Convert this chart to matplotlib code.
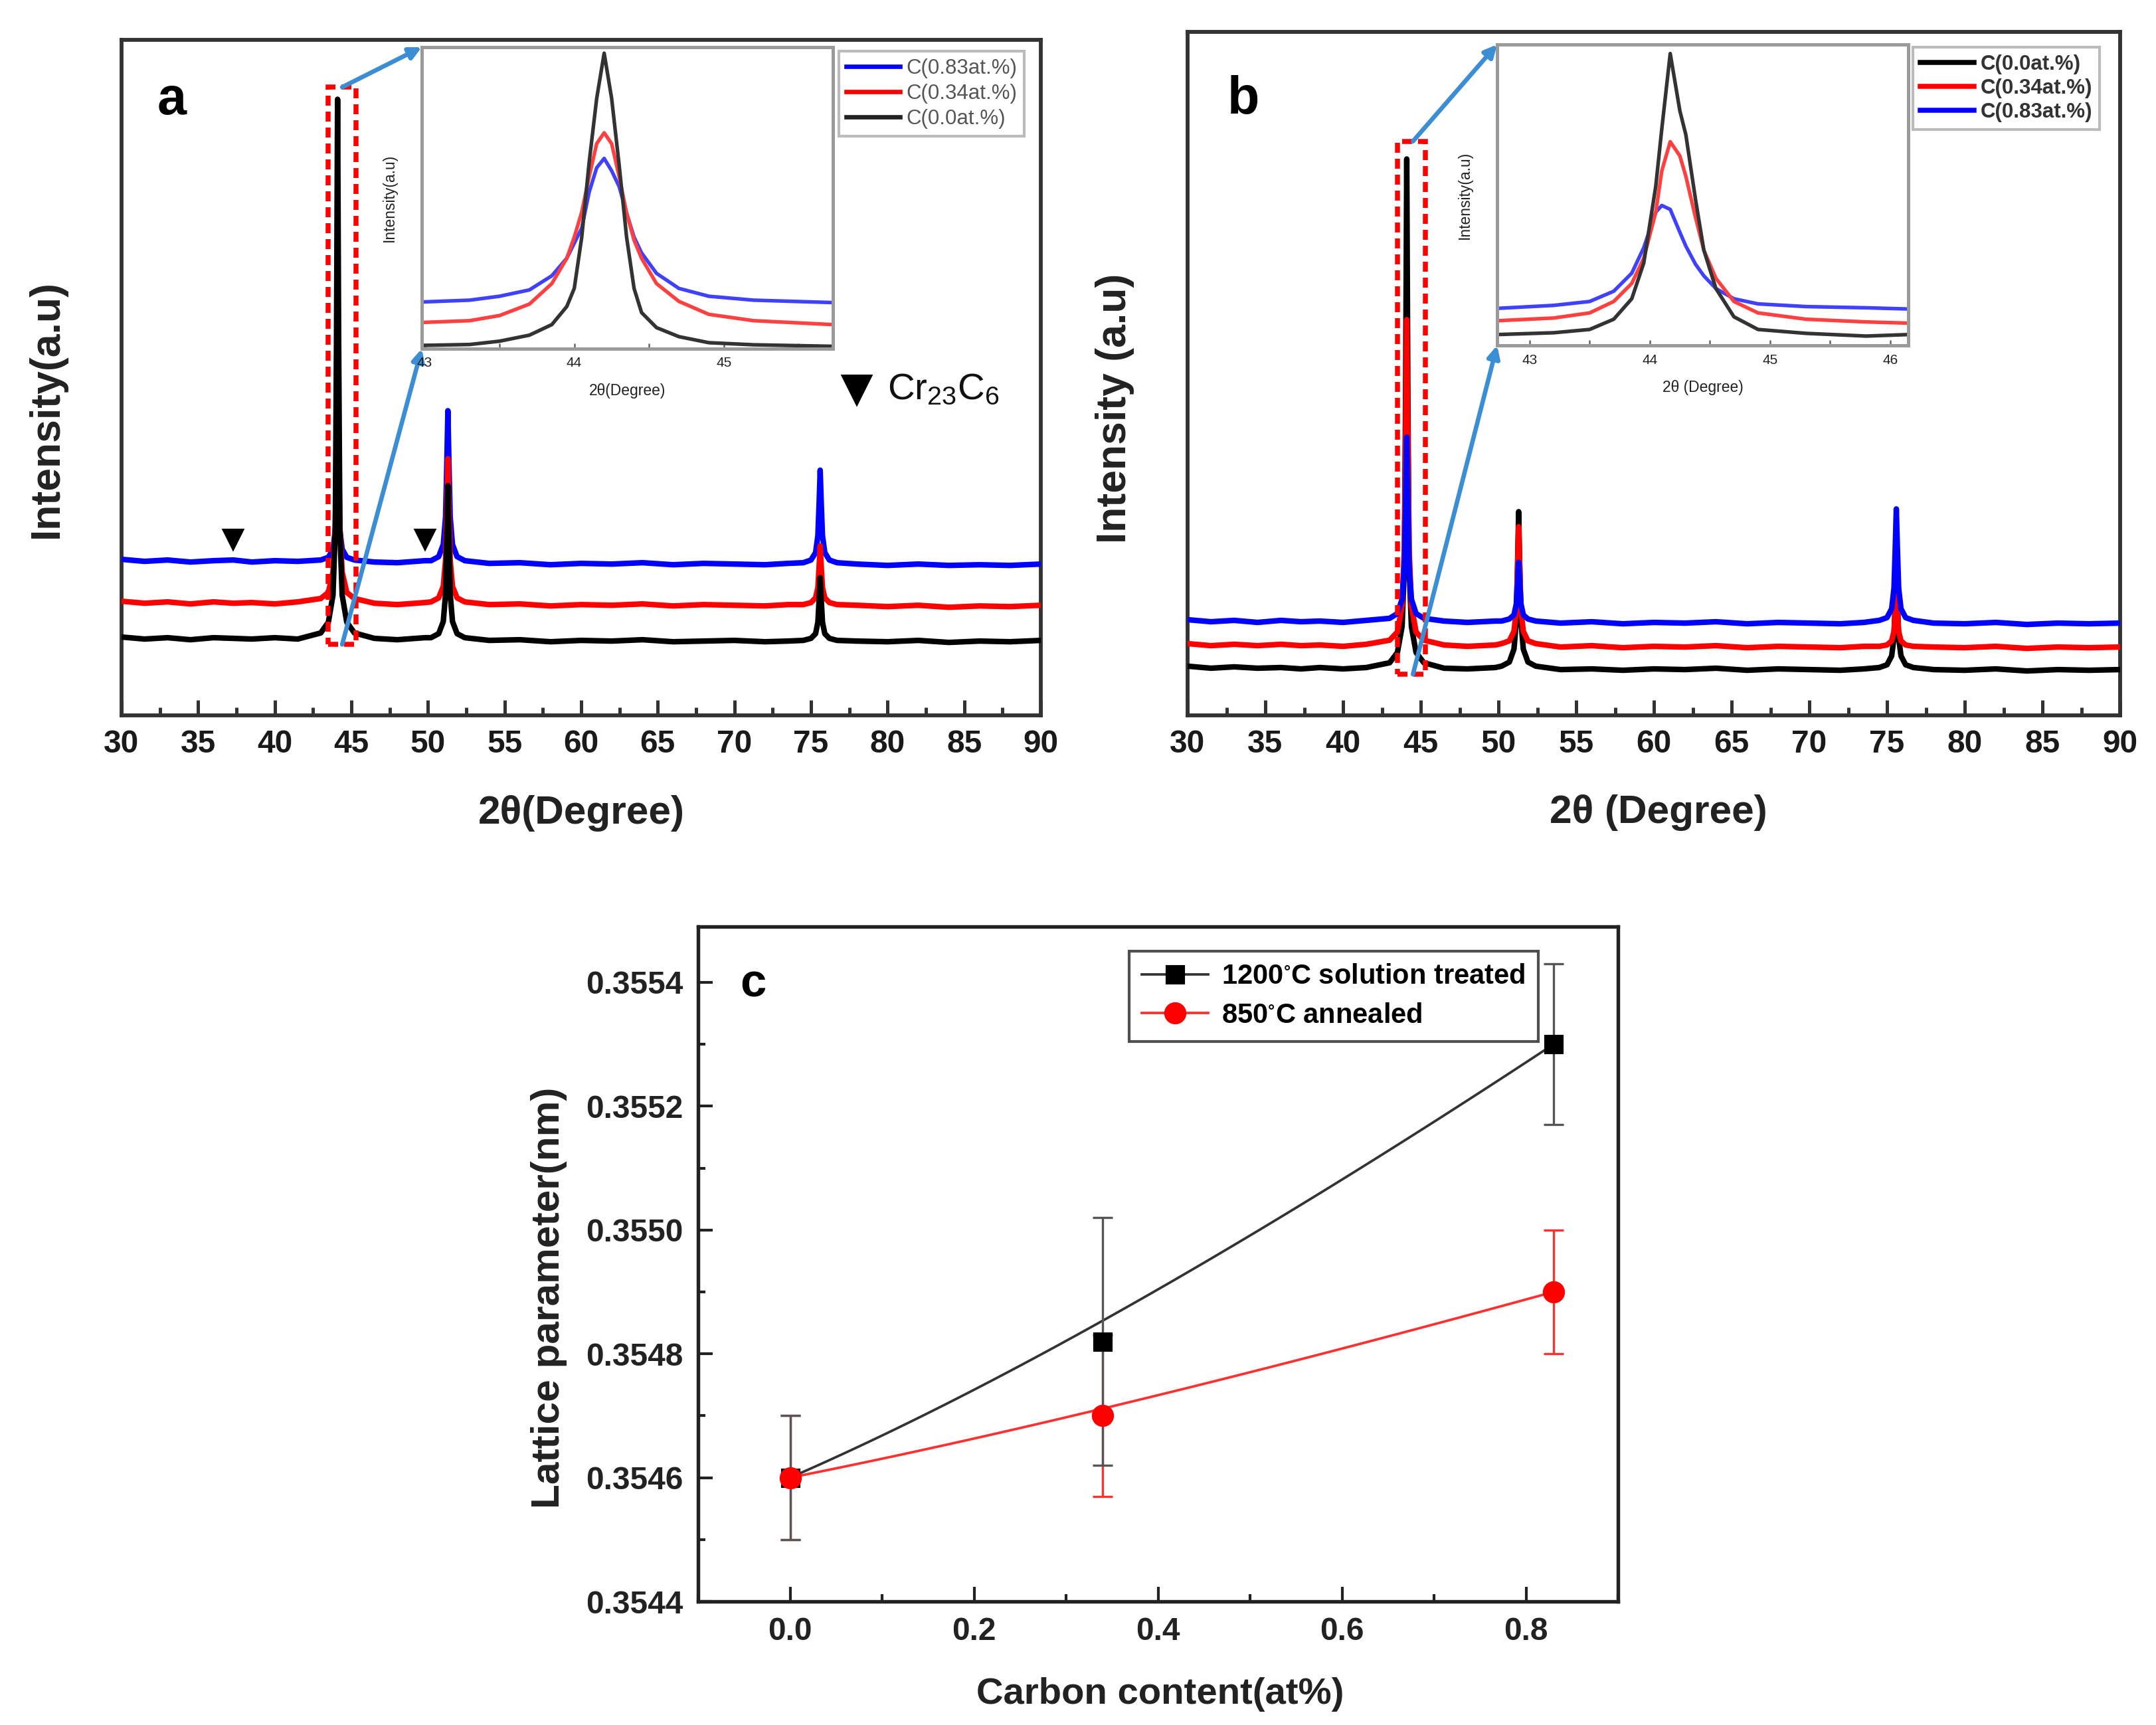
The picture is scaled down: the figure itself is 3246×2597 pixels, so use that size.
import numpy as np
import matplotlib
matplotlib.use("Agg")
import matplotlib.pyplot as plt
from matplotlib.patches import Rectangle
from matplotlib.ticker import MultipleLocator, FormatStrFormatter

plt.rcParams['font.family'] = ['Liberation Sans', 'DejaVu Sans']
plt.rcParams['mathtext.default'] = 'regular'

# ---------------- data: panels a / b (main XRD patterns, arbitrary units 0-100) ----------------
two_theta = [30, 31.5, 33, 34.5, 36, 37.3, 38.5, 40, 41.5,
             43.0, 43.5, 43.8, 43.95, 44.03, 44.1, 44.17, 44.25, 44.4, 44.7, 45.2,
             46.5, 48, 49.8,
             50.2, 50.7, 51.0, 51.15, 51.23, 51.3, 51.37, 51.45, 51.6, 51.9, 52.4,
             54, 56, 58, 60, 62, 64, 66, 68, 70, 72, 73.5,
             74.5, 75.0, 75.3, 75.45, 75.53, 75.6, 75.67, 75.75, 75.9, 76.2, 76.7,
             78, 80, 82, 84, 86, 88, 90]

a_c000 = [11.6, 11.3, 11.5, 11.2, 11.5, 11.4, 11.3, 11.5, 11.3,
          12.2, 13.8, 17.8, 27.4, 55.3, 91.2, 55.3, 27.4, 17.8, 13.8, 12.2,
          11.4, 11.2, 11.5,
          11.5, 12.1, 13.9, 18.0, 26.0, 34.0, 26.0, 18.0, 13.9, 12.1, 11.5,
          11.1, 11.2, 10.9, 11.1, 11.0, 11.2, 10.9, 11.0, 11.1, 10.9, 11.0,
          11.1, 11.4, 12.1, 13.8, 17.1, 20.4, 17.1, 13.8, 12.1, 11.4, 11.1,
          11.0, 10.9, 11.1, 10.8, 11.0, 10.9, 11.1]
a_c034 = [16.9, 16.6, 16.8, 16.5, 16.8, 16.6, 16.7, 16.5, 16.8,
          17.3, 18.2, 21.2, 27.9, 40.9, 54.0, 40.9, 27.9, 21.2, 18.2, 17.3,
          16.6, 16.4, 16.7,
          16.8, 17.4, 19.1, 23.0, 30.5, 38.0, 30.5, 23.0, 19.1, 17.4, 16.8,
          16.4, 16.5, 16.2, 16.4, 16.3, 16.5, 16.2, 16.4, 16.3, 16.2, 16.4,
          16.4, 16.7, 17.4, 18.9, 22.0, 25.1, 22.0, 18.9, 17.4, 16.7, 16.4,
          16.3, 16.1, 16.3, 16.0, 16.2, 16.1, 16.3]
a_c083 = [23.1, 22.8, 23.0, 22.7, 22.9, 23.0, 22.7, 22.9, 22.8,
          23.0, 23.4, 24.6, 27.4, 32.7, 38.0, 32.7, 27.4, 24.6, 23.4, 23.0,
          22.7, 22.6, 22.9,
          22.9, 23.5, 25.3, 29.4, 37.2, 45.1, 37.2, 29.4, 25.3, 23.5, 22.9,
          22.5, 22.6, 22.3, 22.5, 22.4, 22.6, 22.3, 22.5, 22.4, 22.3, 22.5,
          22.6, 23.0, 24.1, 26.6, 31.4, 36.3, 31.4, 26.6, 24.1, 23.0, 22.6,
          22.4, 22.2, 22.4, 22.2, 22.3, 22.2, 22.4]

b_c000 = [7.2, 6.9, 7.1, 6.9, 7.0, 6.8, 7.0, 6.8, 7.0,
          7.7, 9.2, 13.0, 21.9, 47.9, 81.4, 47.9, 21.9, 13.0, 9.2, 7.7,
          6.9, 6.8, 7.0,
          7.2, 7.8, 9.7, 13.8, 21.8, 29.8, 21.8, 13.8, 9.7, 7.8, 7.2,
          6.7, 6.8, 6.6, 6.8, 6.7, 6.9, 6.6, 6.8, 6.7, 6.6, 6.8,
          7.0, 7.4, 8.7, 11.4, 16.8, 22.2, 16.8, 11.4, 8.7, 7.4, 7.0,
          6.7, 6.6, 6.8, 6.5, 6.7, 6.6, 6.7]
b_c034 = [10.5, 10.2, 10.4, 10.2, 10.4, 10.2, 10.3, 10.1, 10.4,
          11.0, 12.2, 16.0, 24.6, 41.2, 57.9, 41.2, 24.6, 16.0, 12.2, 11.0,
          10.3, 10.1, 10.3,
          10.5, 10.9, 12.3, 15.4, 21.5, 27.6, 21.5, 15.4, 12.3, 10.9, 10.5,
          10.0, 10.2, 9.9, 10.1, 10.0, 10.2, 9.9, 10.1, 10.0, 9.9, 10.1,
          10.1, 10.3, 10.9, 12.3, 15.0, 17.7, 15.0, 12.3, 10.9, 10.3, 10.1,
          10.0, 9.9, 10.1, 9.8, 10.0, 9.9, 10.0]
b_c083 = [14.0, 13.7, 13.9, 13.6, 13.9, 13.7, 13.8, 13.6, 13.9,
          14.2, 14.9, 17.0, 21.9, 31.3, 40.7, 31.3, 21.9, 17.0, 14.9, 14.2,
          13.8, 13.6, 13.8,
          13.8, 14.1, 14.7, 16.3, 19.4, 22.4, 19.4, 16.3, 14.7, 14.1, 13.8,
          13.5, 13.7, 13.4, 13.6, 13.5, 13.7, 13.4, 13.6, 13.5, 13.4, 13.6,
          13.9, 14.3, 15.6, 18.6, 24.4, 30.2, 24.4, 18.6, 15.6, 14.3, 13.9,
          13.5, 13.4, 13.6, 13.3, 13.5, 13.4, 13.5]

# ---------------- data: insets (zoom on the 44 deg peak, normalised 0-1) ----------------
inset_a_tt = [42.98, 43.3, 43.5, 43.7, 43.85, 43.95, 44.0, 44.05, 44.1, 44.15, 44.2,
              44.25, 44.3, 44.35, 44.4, 44.45, 44.55, 44.7, 44.9, 45.2, 45.73]
inset_a_c000 = [0.011, 0.014, 0.025, 0.045, 0.08, 0.14, 0.2, 0.37, 0.62, 0.83, 0.98,
                0.83, 0.61, 0.37, 0.2, 0.12, 0.07, 0.04, 0.02, 0.013, 0.008]
inset_a_c034 = [0.087, 0.093, 0.11, 0.148, 0.216, 0.30, 0.37, 0.453, 0.572, 0.68, 0.716,
                0.68, 0.572, 0.45, 0.36, 0.30, 0.216, 0.157, 0.114, 0.093, 0.08]
inset_a_c083 = [0.155, 0.161, 0.174, 0.195, 0.242, 0.30, 0.35, 0.40, 0.52, 0.60, 0.631,
                0.59, 0.538, 0.45, 0.37, 0.318, 0.25, 0.20, 0.174, 0.161, 0.153]

inset_b_tt = [42.73, 43.2, 43.5, 43.7, 43.85, 43.95, 44.05, 44.1, 44.17, 44.25,
              44.3, 44.38, 44.45, 44.55, 44.7, 44.9, 45.3, 45.8, 46.15]
inset_b_c000 = [0.036, 0.042, 0.053, 0.087, 0.155, 0.274, 0.53, 0.72, 0.97, 0.78,
                0.70, 0.486, 0.316, 0.189, 0.095, 0.053, 0.04, 0.031, 0.036]
inset_b_c034 = [0.082, 0.091, 0.108, 0.146, 0.206, 0.29, 0.443, 0.58, 0.677, 0.63,
                0.562, 0.426, 0.316, 0.223, 0.146, 0.108, 0.087, 0.078, 0.074]
inset_b_c083 = [0.123, 0.133, 0.146, 0.18, 0.24, 0.325, 0.443, 0.465, 0.452, 0.376,
                0.33, 0.27, 0.231, 0.189, 0.155, 0.138, 0.129, 0.125, 0.121]

lab_000 = 'C(0.0at.%)'
lab_034 = 'C(0.34at.%)'
lab_083 = 'C(0.83at.%)'

# Cr23C6 marker positions (panel a)
cr_peaks_tt = [37.3, 49.8]
cr_peaks_y = [26.1, 26.1]

# ---------------- data: panel c ----------------
carbon = [0.0, 0.34, 0.83]
lat_1200 = [0.3546, 0.35482, 0.3553]
err_1200 = [0.0001, 0.0002, 0.00013]
lat_850 = [0.3546, 0.3547, 0.3549]
err_850 = [0.0001, 0.00013, 0.0001]
lab_1200 = r'1200$^{\circ}$C solution treated'
lab_850 = r'850$^{\circ}$C annealed'

# ---------------- figure ----------------
W, H = 3246, 2597
fig = plt.figure(figsize=(W / 300, H / 300), dpi=300)

BLUE, RED, BLACK = '#0000ff', '#ff0000', '#000000'
ARROW = '#3b8ed4'
SPINE = '#333333'


def style_main(ax):
    ax.set_xlim(30, 90)
    ax.set_ylim(0, 100)
    ax.xaxis.set_major_locator(MultipleLocator(5))
    ax.xaxis.set_minor_locator(MultipleLocator(2.5))
    ax.set_yticks([])
    ax.tick_params(axis='x', which='major', direction='in', length=5.5, width=1.2,
                   pad=5, labelsize=11.5, colors=SPINE, labelcolor='#1a1a1a')
    ax.tick_params(axis='x', which='minor', direction='in', length=3, width=1.2, colors=SPINE)
    for lab in ax.get_xticklabels():
        lab.set_fontweight('bold')
    for s in ax.spines.values():
        s.set_linewidth(1.4)
        s.set_color(SPINE)


def style_inset(ins, xlim, majors, xlabel):
    ins.set_xlim(*xlim)
    ins.set_ylim(0, 1)
    ins.set_xticks(majors)
    ins.xaxis.set_minor_locator(MultipleLocator(0.5))
    ins.set_yticks([])
    ins.tick_params(axis='x', which='both', direction='in', length=2, width=0.6,
                    labelsize=5, pad=3, colors='#666666', labelcolor='#222222')
    for s in ins.spines.values():
        s.set_linewidth(1.2)
        s.set_color('#9a9a9a')
    ins.set_xlabel(xlabel, fontsize=5.5, labelpad=5, color='#222222')
    ins.set_ylabel('Intensity(a.u)', fontsize=5.5, labelpad=4, color='#222222')
    ins.yaxis.set_label_coords(-0.06, 0.5)


def arrows(ax, ins, x_from, y_top, y_bot):
    for (yf, corner) in [(y_top, (0, 1)), (y_bot, (0, 0))]:
        ax.annotate('', xy=corner, xycoords=ins.transAxes,
                    xytext=(x_from, yf), textcoords='data',
                    arrowprops=dict(arrowstyle='-|>', color=ARROW, lw=1.6,
                                    mutation_scale=9, shrinkA=0, shrinkB=0),
                    annotation_clip=False, zorder=20)


# ---------- panel a ----------
axa = fig.add_axes([183 / W, 1 - 1077 / H, 1384 / W, 1017 / H])
axa.plot(two_theta, a_c083, color=BLUE, lw=2.0, zorder=3)
axa.plot(two_theta, a_c034, color=RED, lw=2.0, zorder=4)
axa.plot(two_theta, a_c000, color=BLACK, lw=2.0, zorder=5)
style_main(axa)
axa.add_patch(Rectangle((43.5, 10.5), 1.8, 82.5, fill=False, edgecolor=RED,
                        lw=1.8, ls=(0, (2, 1.2)), zorder=6))
axa.plot(cr_peaks_tt, cr_peaks_y, ls='none', marker='v', color='black', ms=6.5, zorder=7)
axa.plot([78.0], [48.2], ls='none', marker='v', color='black', ms=10, zorder=7)
axa.text(80.0, 48.2, r'Cr$_{23}$C$_6$', fontsize=13.5, va='center', ha='left', color='#111111')
axa.text(33.3, 91, 'a', fontsize=19, fontweight='bold', va='center', ha='center')
axa.set_xlabel('2θ(Degree)', fontsize=14.5, fontweight='bold', color='#222222')
axa.xaxis.set_label_coords(0.5, -0.118)
axa.set_ylabel('Intensity(a.u)', fontsize=15, fontweight='bold', color='#222222')
axa.yaxis.set_label_coords(-0.06, 0.454)

insa = fig.add_axes([635 / W, 1 - 525 / H, 619 / W, 454 / H])
insa.plot(inset_a_tt, inset_a_c083, color='#4040ff', lw=1.3)
insa.plot(inset_a_tt, inset_a_c034, color='#ff4040', lw=1.3)
insa.plot(inset_a_tt, inset_a_c000, color='#333333', lw=1.3)
style_inset(insa, (42.98, 45.73), [43, 44, 45], '2θ(Degree)')
arrows(axa, insa, 44.4, 93.0, 10.5)

hb, = axa.plot([], [], color=BLUE, lw=1.6)
hr, = axa.plot([], [], color=RED, lw=1.6)
hk, = axa.plot([], [], color='#222222', lw=1.6)
lega = axa.legend([hb, hr, hk], [lab_083, lab_034, lab_000], loc='upper right',
                  bbox_to_anchor=(0.982, 0.983), fontsize=7.5, frameon=True, fancybox=False,
                  handlelength=2.6, labelspacing=0.25, borderpad=0.35, handletextpad=0.3,
                  borderaxespad=0)
lega.get_frame().set_edgecolor('#aaaaaa')
lega.get_frame().set_linewidth(1.0)
for t in lega.get_texts():
    t.set_color('#555555')

# ---------- panel b ----------
axb = fig.add_axes([1788 / W, 1 - 1077 / H, 1404 / W, 1029 / H])
axb.plot(two_theta, b_c000, color=BLACK, lw=2.0, zorder=3)
axb.plot(two_theta, b_c034, color=RED, lw=2.0, zorder=4)
axb.plot(two_theta, b_c083, color=BLUE, lw=2.0, zorder=5)
style_main(axb)
axb.add_patch(Rectangle((43.5, 6.0), 1.8, 78.0, fill=False, edgecolor=RED,
                        lw=1.8, ls=(0, (2, 1.2)), zorder=6))
axb.text(33.6, 90, 'b', fontsize=19, fontweight='bold', va='center', ha='center')
axb.set_xlabel('2θ (Degree)', fontsize=14.5, fontweight='bold', color='#222222')
axb.xaxis.set_label_coords(0.505, -0.116)
axb.set_ylabel('Intensity (a.u)', fontsize=15, fontweight='bold', color='#222222')
axb.yaxis.set_label_coords(-0.057, 0.449)

insb = fig.add_axes([2254 / W, 1 - 520 / H, 619 / W, 453 / H])
insb.plot(inset_b_tt, inset_b_c083, color='#4040ff', lw=1.3)
insb.plot(inset_b_tt, inset_b_c034, color='#ff4040', lw=1.3)
insb.plot(inset_b_tt, inset_b_c000, color='#333333', lw=1.3)
style_inset(insb, (42.73, 46.15), [43, 44, 45, 46], '2θ (Degree)')
arrows(axb, insb, 44.5, 84.0, 6.0)

hk2, = axb.plot([], [], color=BLACK, lw=1.8)
hr2, = axb.plot([], [], color=RED, lw=1.8)
hb2, = axb.plot([], [], color=BLUE, lw=1.8)
legb = axb.legend([hk2, hr2, hb2], [lab_000, lab_034, lab_083], loc='upper right',
                  bbox_to_anchor=(0.978, 0.978), frameon=True, fancybox=False,
                  handlelength=2.6, labelspacing=0.2, borderpad=0.35, handletextpad=0.3,
                  borderaxespad=0, prop={'weight': 'bold', 'size': 7.5})
legb.get_frame().set_edgecolor('#aaaaaa')
legb.get_frame().set_linewidth(1.0)
for t in legb.get_texts():
    t.set_color('#333333')

# ---------- panel c ----------
axc = fig.add_axes([1051 / W, 1 - 2411 / H, 1385 / W, 1016 / H])


def bspline(xs, ys, n=120):
    t = np.linspace(0, 1, n)
    bx = (1 - t) ** 2 * xs[0] + 2 * t * (1 - t) * xs[1] + t ** 2 * xs[2]
    by = (1 - t) ** 2 * ys[0] + 2 * t * (1 - t) * ys[1] + t ** 2 * ys[2]
    return bx, by


bx, by = bspline(carbon, lat_1200)
axc.plot(bx, by, color='#333333', lw=0.9, zorder=2)
bx, by = bspline(carbon, lat_850)
axc.plot(bx, by, color='#ff3030', lw=0.9, zorder=3)
axc.errorbar(carbon, lat_850, yerr=err_850, fmt='none', ecolor='#ff3030',
             elinewidth=0.8, capsize=3.5, capthick=0.8, zorder=2)
axc.errorbar(carbon, lat_1200, yerr=err_1200, fmt='none', ecolor='#555555',
             elinewidth=0.8, capsize=3.5, capthick=0.8, zorder=3)
axc.plot(carbon, lat_1200, ls='none', marker='s', color='black', ms=6, zorder=4)
axc.plot(carbon, lat_850, ls='none', marker='o', color='red', ms=7, zorder=5)

axc.set_xlim(-0.1, 0.9)
axc.set_ylim(0.3544, 0.35549)
axc.xaxis.set_major_locator(MultipleLocator(0.2))
axc.xaxis.set_minor_locator(MultipleLocator(0.1))
axc.yaxis.set_major_locator(MultipleLocator(0.0002))
axc.yaxis.set_minor_locator(MultipleLocator(0.0001))
axc.xaxis.set_major_formatter(FormatStrFormatter('%.1f'))
axc.yaxis.set_major_formatter(FormatStrFormatter('%.4f'))
axc.tick_params(axis='both', which='major', direction='in', length=5.2, width=1.0,
                labelsize=11.5, colors='#222222', pad=5.5)
axc.tick_params(axis='both', which='minor', direction='in', length=2.7, width=1.0,
                colors='#222222')
for lab in axc.get_xticklabels() + axc.get_yticklabels():
    lab.set_fontweight('bold')
for s in axc.spines.values():
    s.set_linewidth(1.3)
    s.set_color('#222222')
axc.text(0.06, 0.914, 'c', transform=axc.transAxes, fontsize=17, fontweight='bold',
         va='center', ha='center')
axc.set_xlabel('Carbon content(at%)', fontsize=13.5, fontweight='bold', color='#222222')
axc.xaxis.set_label_coords(0.502, -0.112)
axc.set_ylabel('Lattice parameter(nm)', fontsize=14.5, fontweight='bold', color='#222222')
axc.yaxis.set_label_coords(-0.142, 0.45)

h1, = axc.plot([], [], color='#333333', lw=0.9, marker='s', ms=6, mfc='black', mec='black')
h2, = axc.plot([], [], color='#ff3030', lw=0.9, marker='o', ms=7, mfc='red', mec='red')
legc = axc.legend([h1, h2], [lab_1200, lab_850], loc='upper right',
                  bbox_to_anchor=(0.913, 0.964), frameon=True, fancybox=False,
                  handlelength=2.4, labelspacing=0.45, borderpad=0.45, handletextpad=0.5,
                  borderaxespad=0, prop={'weight': 'bold', 'size': 10})
legc.get_frame().set_edgecolor('#222222')
legc.get_frame().set_linewidth(1.0)

fig.savefig('out.png', dpi=300)
